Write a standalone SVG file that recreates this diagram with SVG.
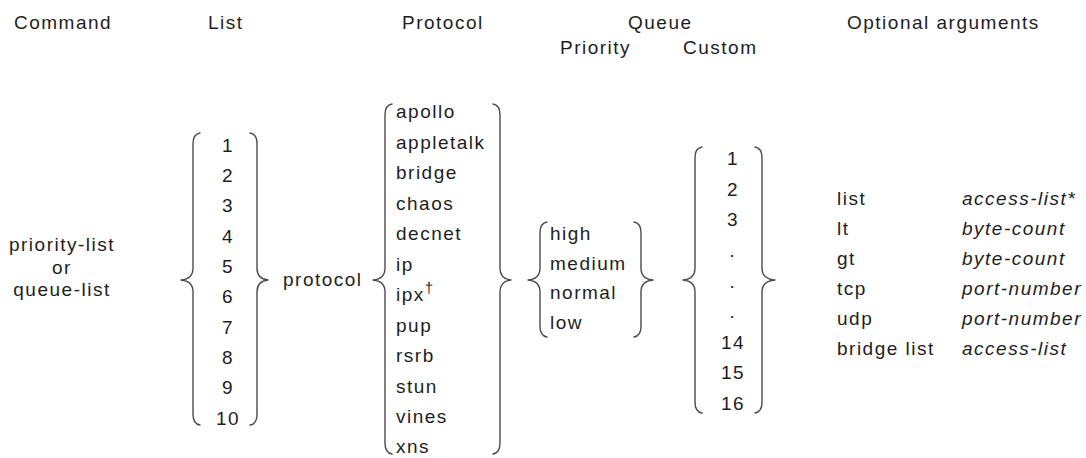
<svg xmlns="http://www.w3.org/2000/svg" width="1086" height="458" viewBox="0 0 1086 458">
<style>
text{font-family:"Liberation Sans",Arial,sans-serif;font-size:19px;fill:#1e1e1e;letter-spacing:1.5px}
.m{text-anchor:middle}
.i{font-style:italic}
.b{fill:none;stroke:#4a4a4a;stroke-width:1.4;stroke-linecap:round;stroke-linejoin:round}
</style>
<rect width="1086" height="458" fill="#ffffff"/>
<g id="headers">
<text x="14" y="29">Command</text>
<text x="208" y="29">List</text>
<text x="402" y="29">Protocol</text>
<text x="628" y="29">Queue</text>
<text x="560" y="54">Priority</text>
<text x="683" y="54">Custom</text>
<text x="847" y="29">Optional arguments</text>
</g>
<g id="command">
<text class="m" x="62" y="251">priority-list</text>
<text class="m" x="62" y="274">or</text>
<text class="m" x="62" y="296">queue-list</text>
</g>
<g id="list">
<text class="m" x="228" y="151.5">1</text>
<text class="m" x="228" y="182">2</text>
<text class="m" x="228" y="212">3</text>
<text class="m" x="228" y="242.5">4</text>
<text class="m" x="228" y="273">5</text>
<text class="m" x="228" y="303">6</text>
<text class="m" x="228" y="333.5">7</text>
<text class="m" x="228" y="364">8</text>
<text class="m" x="228" y="394">9</text>
<text class="m" x="228" y="424.5">10</text>
</g>
<g id="protocol-label">
<text x="283" y="286">protocol</text>
</g>
<g id="protocol">
<text x="396" y="118">apollo</text>
<text x="396" y="148.5">appletalk</text>
<text x="396" y="179">bridge</text>
<text x="396" y="209.5">chaos</text>
<text x="396" y="240">decnet</text>
<text x="396" y="270.5">ip</text>
<text x="396" y="301">ipx<tspan dy="-8" font-size="15">†</tspan></text>
<text x="396" y="331.5">pup</text>
<text x="396" y="362">rsrb</text>
<text x="396" y="392.5">stun</text>
<text x="396" y="423">vines</text>
<text x="396" y="453">xns</text>
</g>
<g id="priority">
<text x="550" y="240">high</text>
<text x="550" y="269.5">medium</text>
<text x="550" y="299">normal</text>
<text x="550" y="328.5">low</text>
</g>
<g id="custom">
<text class="m" x="733" y="165">1</text>
<text class="m" x="733" y="195.5">2</text>
<text class="m" x="733" y="226">3</text>
<text class="m" x="733" y="257">.</text>
<text class="m" x="733" y="287.5">.</text>
<text class="m" x="733" y="318">.</text>
<text class="m" x="733" y="348.5">14</text>
<text class="m" x="733" y="379">15</text>
<text class="m" x="733" y="409.5">16</text>
</g>
<g id="optional-arguments">
<text x="837" y="205">list</text>
<text x="837" y="235">lt</text>
<text x="837" y="265">gt</text>
<text x="837" y="295">tcp</text>
<text x="837" y="325">udp</text>
<text x="837" y="355">bridge list</text>
<text class="i" x="962" y="205">access-list*</text>
<text class="i" x="962" y="235">byte-count</text>
<text class="i" x="962" y="265">byte-count</text>
<text class="i" x="962" y="295">port-number</text>
<text class="i" x="962" y="325">port-number</text>
<text class="i" x="962" y="355">access-list</text>
</g>
<g id="connectors">
<path class="b" d="M200 133 Q193 134 193 144 L193 268 Q193 279 181 280 Q193 281 193 292 L193 414 Q193 424 200 425"/>
<path class="b" d="M250 133 Q257 134 257 144 L257 268 Q257 279 268 280 Q257 281 257 292 L257 414 Q257 424 250 425"/>
<path class="b" d="M392 104 Q385 105 385 115 L385 268 Q385 279 373 280 Q385 281 385 292 L385 443 Q385 453 392 454"/>
<path class="b" d="M493 104 Q500 105 500 115 L500 268 Q500 279 511 280 Q500 281 500 292 L500 443 Q500 453 493 454"/>
<path class="b" d="M547 222 Q540 223 540 233 L540 268 Q540 279 528 280 Q540 281 540 292 L540 326 Q540 336 547 337"/>
<path class="b" d="M634 222 Q641 223 641 233 L641 268 Q641 279 653 280 Q641 281 641 292 L641 326 Q641 336 634 337"/>
<path class="b" d="M702 147 Q695 148 695 158 L695 268 Q695 279 683 280 Q695 281 695 292 L695 402 Q695 412 702 413"/>
<path class="b" d="M755 147 Q762 148 762 158 L762 268 Q762 279 775 280 Q762 281 762 292 L762 402 Q762 412 755 413"/>
</g>
</svg>
